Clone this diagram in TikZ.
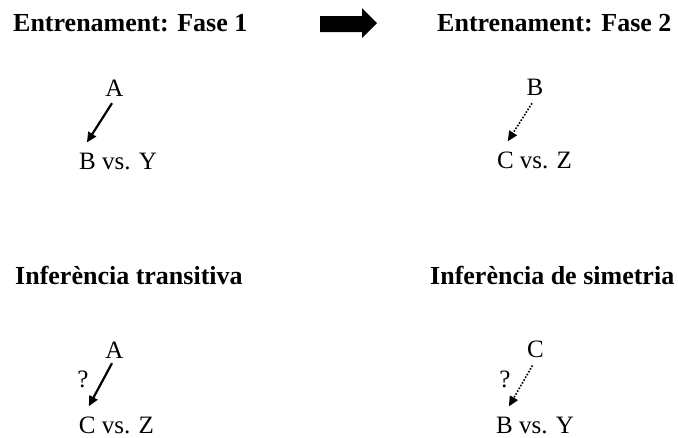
\documentclass[tikz,border=0pt]{standalone}
\usepackage{fontspec}
\setmainfont{Liberation Serif}
\usetikzlibrary{arrows.meta}
\begin{document}
\begin{tikzpicture}[x=1pt,y=1pt,
  title/.style={anchor=base west,inner sep=0pt,font=\fontsize{26}{30}\selectfont\bfseries},
  lbl/.style={anchor=base,inner sep=0pt,font=\fontsize{25}{30}\selectfont},
  solidarr/.style={line width=2.2pt,-{Triangle[length=10pt,width=9pt]}},
  dotarr/.style={line width=1.6pt,dash pattern=on 1.6pt off 1.6pt,-{Triangle[length=10pt,width=9pt]}}]
\useasboundingbox (0,0) rectangle (678,-437);
% titles
\node[title] (t1) at (13,-31.5) {Entrenament: Fase 1};
\node[title] (t2) at (437,-31.5) {Entrenament: Fase 2};
\node[title] (t3) at (15,-284) {Inferència transitiva};
\node[title] (t4) at (430,-284) {Inferència de simetria};
% big arrow
\fill (320,-16) -- (362,-16) -- (362,-8) -- (377,-23) -- (362,-38) -- (362,-32) -- (320,-32) -- cycle;
% panel 1
\node[lbl] (a1) at (114.5,-96) {A};
\node[lbl] (by1) at (118,-169) {B vs. Y};
\draw[solidarr] ([xshift=-2.5pt,yshift=-7pt]a1.south) -- ([xshift=8pt,yshift=10pt]by1.north west);
% panel 2
\node[lbl] (b2) at (535,-95) {B};
\node[lbl] (cz2) at (534.5,-168) {C vs. Z};
\draw[dotarr] ([xshift=-3pt,yshift=-8pt]b2.south) -- ([xshift=11pt,yshift=10pt]cz2.north west);
% panel 3
\node[lbl] (a3) at (114.5,-358) {A};
\node[lbl] (q3) at (83,-387) {?};
\node[lbl] (cz3) at (116.5,-433) {C vs. Z};
\draw[solidarr] ([xshift=-2.5pt,yshift=-5pt]a3.south) -- ([xshift=10pt,yshift=10pt]cz3.north west);
% panel 4
\node[lbl] (c4) at (535.5,-357) {C};
\node[lbl] (q4) at (505,-387) {?};
\node[lbl] (by4) at (535,-433) {B vs. Y};
\draw[dotarr] ([xshift=-3pt,yshift=-8pt]c4.south) -- ([xshift=13pt,yshift=10pt]by4.north west);
\end{tikzpicture}
\end{document}
